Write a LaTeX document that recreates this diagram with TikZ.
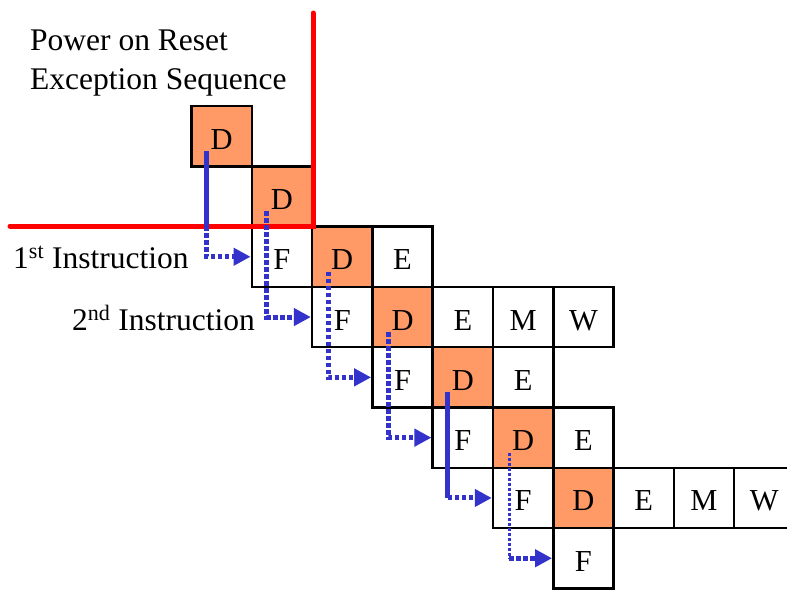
\documentclass[tikz,border=0pt]{standalone}
\usepackage{fontspec}
\setmainfont{Liberation Serif}
\usetikzlibrary{arrows.meta,calc}
\definecolor{peach}{HTML}{FF9966}
\definecolor{pblue}{HTML}{3333CC}
\definecolor{pred}{HTML}{FF0000}
\begin{document}
\begin{tikzpicture}[x=1pt,y=-1pt,
 cell/.style={draw=black,line width=2.5pt,minimum size=60.3pt,inner sep=0pt,text height=26pt,text depth=0pt,font=\fontsize{30.5}{32}\selectfont},
 dcell/.style={cell,fill=peach},
 lbl/.style={font=\fontsize{31.5}{39}\selectfont,inner sep=0pt,align=left},
 redline/.style={pred,line width=5pt,line cap=round,line join=miter},
 sline/.style={pblue,line width=5pt},
 dline/.style={pblue,line width=5pt,dash pattern=on 4.5pt off 2.5pt},
 tline/.style={pblue,line width=3.2pt,dash pattern=on 3pt off 2pt},
 tip/.style={-{Triangle[length=17pt,width=17pt]}}
]
\useasboundingbox (0,0) rectangle (787,589);
\clip (0,0) rectangle (787,589);
% row 0, 1
\node[dcell] (d0) at (221.65,136.15) {D};
\node[dcell] (d1) at (281.95,196.45) {D};
% row 2
\node[cell]  (f2) at (281.95,256.75) {F};
\node[dcell] (d2) at (342.25,256.75) {D};
\node[cell]  (e2) at (402.55,256.75) {E};
% row 3
\node[cell]  (f3) at (342.25,317.05) {F};
\node[dcell] (d3) at (402.55,317.05) {D};
\node[cell]  (e3) at (462.85,317.05) {E};
\node[cell]  (m3) at (523.15,317.05) {M};
\node[cell]  (w3) at (583.45,317.05) {W};
% row 4
\node[cell]  (f4) at (402.55,377.35) {F};
\node[dcell] (d4) at (462.85,377.35) {D};
\node[cell]  (e4) at (523.15,377.35) {E};
% row 5
\node[cell]  (f5) at (462.85,437.65) {F};
\node[dcell] (d5) at (523.15,437.65) {D};
\node[cell]  (e5) at (583.45,437.65) {E};
% row 6
\node[cell]  (f6) at (523.15,497.95) {F};
\node[dcell] (d6) at (583.45,497.95) {D};
\node[cell]  (e6) at (643.75,497.95) {E};
\node[cell]  (m6) at (704.05,497.95) {M};
\node[cell]  (w6) at (764.35,497.95) {W};
% row 7
\node[cell]  (f7) at (583.45,558.25) {F};
% labels
\node[lbl,anchor=north west] (title) at (30,30) {Power on Reset\\Exception Sequence};
\node[lbl,anchor=base west] (i1) at (13,268) {1\textsuperscript{st} Instruction};
\node[lbl,anchor=base west] (i2) at (72,330) {2\textsuperscript{nd} Instruction};
% red boundary
\coordinate (rl) at (10,226);
\coordinate (rc) at (313,226);
\coordinate (rt) at (313,13);
\draw[redline] (rl) -- (rc) -- (rt);
% blue arrows
\coordinate (s1) at ($(d0.center)+(-15,15)$);
\coordinate (s2) at ($(d1.center)+(-15,15)$);
\coordinate (s3) at ($(d2.center)+(-14,15)$);
\coordinate (s4) at ($(d3.center)+(-14,15)$);
\coordinate (s5) at ($(d4.center)+(-15,15)$);
\coordinate (s6) at ($(d5.center)+(-14,15)$);
\draw[sline] (s1) -- (s1 |- rc);
\draw[dline,tip] (s1 |- rc) |- (f2.west);
\draw[dline,tip] (s2) |- (f3.west);
\draw[dline,tip] (s3) |- (f4.west);
\draw[dline,tip] (s4) |- (f5.west);
\draw[sline] (s5) -- (s5 |- f6.west);
\draw[dline,tip] (s5 |- f6.west) -- (f6.west);
\draw[tline] (s6) -- (s6 |- f7.west);
\draw[dline,tip] (s6 |- f7.west) -- (f7.west);
\end{tikzpicture}
\end{document}
